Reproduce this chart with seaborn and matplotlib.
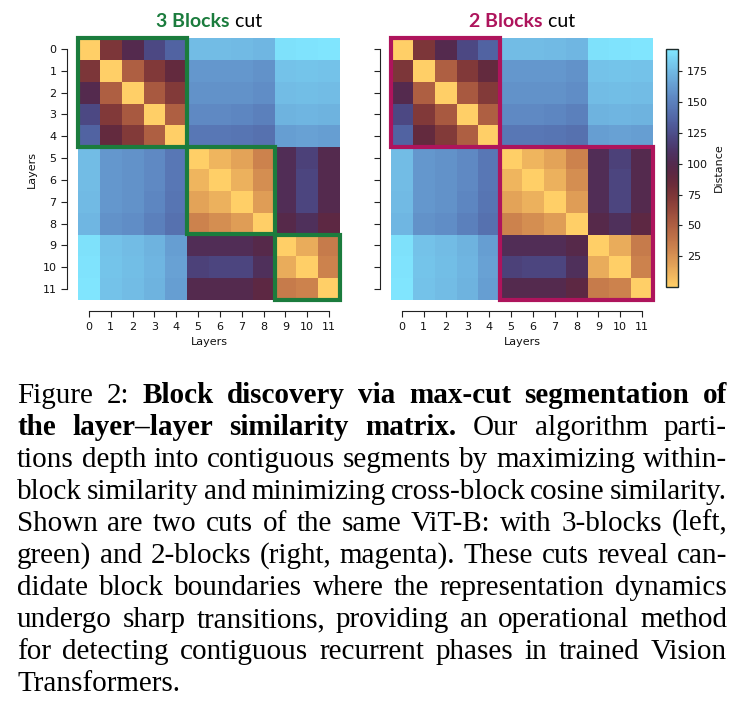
import numpy as np
import pandas as pd
import seaborn as sns
import matplotlib.pyplot as plt
from matplotlib.patches import Rectangle
from matplotlib.transforms import IdentityTransform

# Donnees : matrice de distance couche-couche (ViT-B, 12 couches)
layers = [str(i) for i in range(12)]
dist_rows = [
    [0, 75, 100, 122, 135, 176, 176, 175, 174, 190, 191, 192],
    [75, 0, 50, 73, 88, 160, 160, 160, 158, 178, 179, 178],
    [100, 50, 0, 53, 72, 158, 158, 158, 156, 176, 177, 176],
    [122, 73, 53, 0, 50, 154, 154, 153, 150, 172, 173, 172],
    [135, 88, 72, 50, 0, 145, 145, 144, 142, 163, 165, 163],
    [176, 160, 158, 154, 145, 0, 10, 18, 32, 104, 118, 100],
    [176, 160, 158, 154, 145, 10, 0, 12, 27, 104, 120, 100],
    [175, 160, 158, 153, 144, 18, 12, 0, 20, 104, 120, 100],
    [174, 158, 156, 150, 142, 32, 27, 20, 0, 98, 106, 92],
    [190, 178, 176, 172, 163, 104, 104, 104, 98, 0, 14, 36],
    [191, 179, 177, 173, 165, 118, 120, 120, 106, 14, 0, 32],
    [192, 178, 176, 172, 163, 100, 100, 100, 92, 36, 32, 0],
]
cbar_ticks = [25, 50, 75, 100, 125, 150, 175]
blocks_left = [(0, 5), (5, 9), (9, 12)]
blocks_right = [(0, 5), (5, 12)]

caption = [
    [("Figure 2:", False), ("Block discovery via max-cut segmentation of", True)],
    [("the layer\u2013layer similarity matrix.", True), ("Our algorithm parti-", False)],
    [("tions depth into contiguous segments by maximizing within-", False)],
    [("block similarity and minimizing cross-block cosine similarity.", False)],
    [("Shown are two cuts of the same ViT-B: with 3-blocks (left,", False)],
    [("green) and 2-blocks (right, magenta). These cuts reveal can-", False)],
    [("didate block boundaries where the representation dynamics", False)],
    [("undergo sharp transitions, providing an operational method", False)],
    [("for detecting contiguous recurrent phases in trained Vision", False)],
    [("Transformers.", False)],
]

GREEN = "#1b7c3d"
MAGENTA = "#ae145c"
W, H = 737, 703

sns.set_theme(style="ticks")
plt.rcParams['font.family'] = ['DejaVu Sans']

df = pd.DataFrame(dist_rows, index=layers, columns=layers)

fig = plt.figure(figsize=(W / 100, H / 100), dpi=100)
ax1 = fig.add_axes([78 / W, 1 - 300 / H, 262 / W, 262 / H])
ax2 = fig.add_axes([391 / W, 1 - 300 / H, 262 / W, 262 / H])
cax = fig.add_axes([666 / W, 1 - 287 / H, 12 / W, 238 / H])

sns.heatmap(df, ax=ax1, cmap="managua", vmin=0, vmax=193, cbar=False)
sns.heatmap(df, ax=ax2, cmap="managua", vmin=0, vmax=193, cbar_ax=cax,
            cbar_kws={"ticks": cbar_ticks})

for ax, blocks, col in [(ax1, blocks_left, GREEN), (ax2, blocks_right, MAGENTA)]:
    for a, b in blocks:
        ax.add_patch(Rectangle((a, a), b - a, b - a, fill=False, edgecolor=col,
                               linewidth=3, clip_on=False, zorder=5))
    sns.despine(ax=ax, offset=8, trim=True)
    ax.set_xticklabels(layers, rotation=0)
    ax.set_xlabel("Layers", fontsize=8, color="#111111")
    ax.tick_params(length=4, width=0.8, color="#222222", labelsize=8,
                   labelcolor="#111111")
    for s in ["left", "bottom"]:
        ax.spines[s].set_linewidth(0.8)
        ax.spines[s].set_color("#222222")

ax1.set_yticklabels(layers, rotation=0)
ax1.set_ylabel("Layers", fontsize=8, color="#111111")
ax2.tick_params(axis="y", labelleft=False)
ax2.set_ylabel("")

cb = ax2.collections[0].colorbar
cb.outline.set_linewidth(1)
cb.outline.set_edgecolor("#1c2b2b")
cb.ax.tick_params(labelsize=8, length=3, width=0.8, labelcolor="#111111")
cb.set_label("Distance", fontsize=8, color="#111111")

renderer = fig.canvas.get_renderer()

# Titres bicolores
for cx, num, col in [(209, "3 Blocks", GREEN), (522, "2 Blocks", MAGENTA)]:
    t1 = fig.text(0, H - 27, num, color=col, fontsize=14, weight="bold",
                  family="Lato", va="baseline", transform=IdentityTransform())
    t2 = fig.text(0, H - 27, " cut", color="black", fontsize=14,
                  family="Lato", va="baseline", transform=IdentityTransform())
    w1 = t1.get_window_extent(renderer).width
    w2 = t2.get_window_extent(renderer).width
    x0 = cx - (w1 + w2) / 2
    t1.set_x(x0)
    t2.set_x(x0 + w1)

# Legende justifiee
FS = 21
x_left, x_right = 17, 727
y0, dy = 403, 32
for i, segs in enumerate(caption):
    words = [(w, b) for txt, b in segs for w in txt.split()]
    arts = []
    for w, b in words:
        t = fig.text(0, H - (y0 + i * dy), w, fontsize=FS, family="Liberation Serif",
                     weight="bold" if b else "normal", va="baseline", color="black",
                     transform=IdentityTransform())
        arts.append(t)
    widths = [t.get_window_extent(renderer).width for t in arts]
    if i < len(caption) - 1 and len(arts) > 1:
        gap = (x_right - x_left - sum(widths)) / (len(arts) - 1)
    else:
        gap = FS * 100 / 72 * 0.25
    x = x_left
    for t, w in zip(arts, widths):
        t.set_x(x)
        x += w + gap

fig.savefig("out.png", dpi=100)
